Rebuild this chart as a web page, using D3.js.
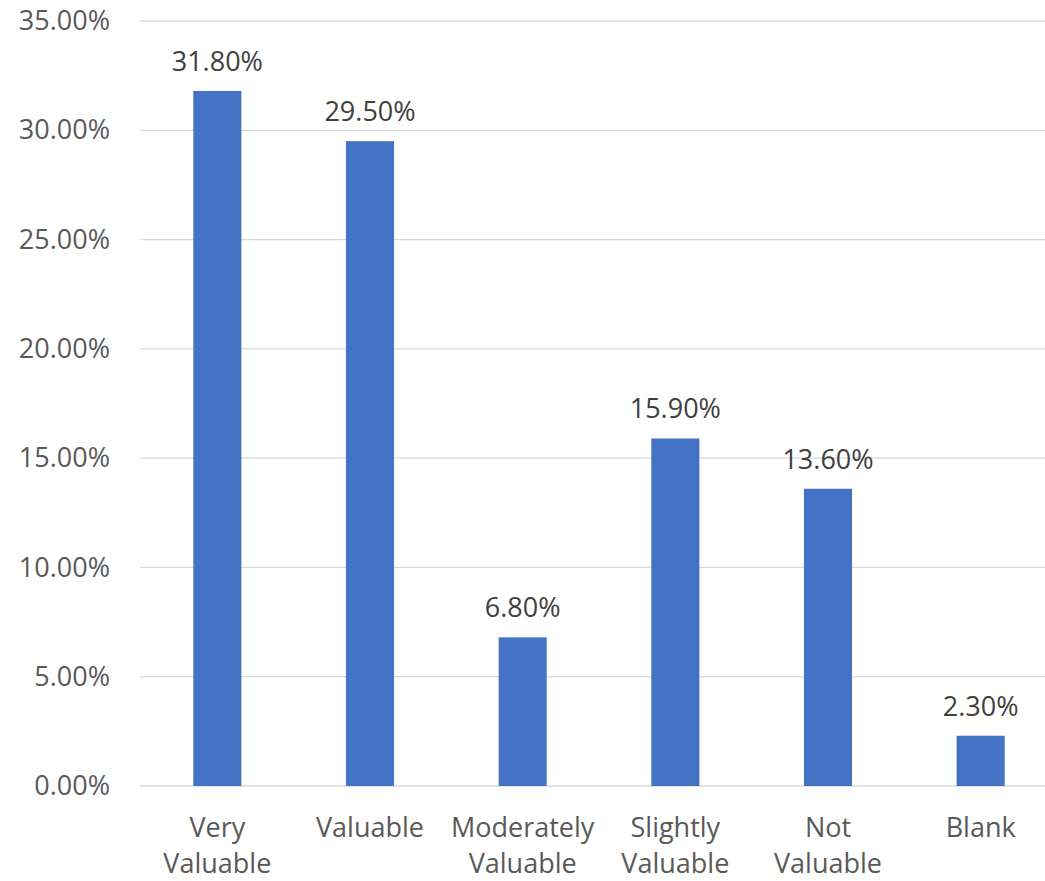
<!DOCTYPE html>
<html>
<head>
<meta charset="utf-8">
<script src="https://cdn.jsdelivr.net/npm/d3@7"></script>
<style>
  body { margin: 0; background: #fff; }
  text { font-family: "Open Sans", sans-serif; }
</style>
</head>
<body>
<svg id="chart"></svg>
<script>
const categories = [["Very", "Valuable"], ["Valuable"], ["Moderately", "Valuable"], ["Slightly", "Valuable"], ["Not", "Valuable"], ["Blank"]];
const values = [31.8, 29.5, 6.8, 15.9, 13.6, 2.3];
const yTicks = [0, 5, 10, 15, 20, 25, 30, 35];

const width = 1045, height = 881;
const fs = 27;
const svg = d3.select("#chart").attr("width", width).attr("height", height);

let keys = categories.map((c, i) => i);
let xScale = d3.scaleBand().domain(keys).range([141, 1057]).paddingInner(0.685).paddingOuter(0.3425);
let yScale = d3.scaleLinear().domain([0, 35]).range([786, 21]);

// gridlines
svg.append("g").selectAll("line").data(yTicks).enter().append("line")
  .attr("x1", 140).attr("x2", width)
  .attr("y1", d => yScale(d)).attr("y2", d => yScale(d))
  .attr("stroke", "#d9d9d9").attr("stroke-width", 1.3);

// y axis labels
let yAxis = d3.axisLeft(yScale).tickValues(yTicks).tickSize(0).tickPadding(0)
  .tickFormat(d => d.toFixed(2) + "%");
let gy = svg.append("g").attr("transform", "translate(110,0)").call(yAxis);
gy.select(".domain").remove();
gy.selectAll("text").attr("font-size", fs).attr("fill", "#595959")
  .attr("font-family", "Open Sans, sans-serif");

// bars
svg.append("g").selectAll("rect").data(values).enter().append("rect")
  .attr("x", (d, i) => xScale(i))
  .attr("y", d => yScale(d))
  .attr("width", xScale.bandwidth())
  .attr("height", d => yScale(0) - yScale(d))
  .attr("fill", "#4472c4");

// data labels
svg.append("g").selectAll("text").data(values).enter().append("text")
  .attr("x", (d, i) => xScale(i) + xScale.bandwidth() / 2)
  .attr("y", d => yScale(d) - 20)
  .attr("text-anchor", "middle")
  .attr("font-size", fs).attr("fill", "#404040")
  .text(d => d.toFixed(2) + "%");

// category labels
let cat = svg.append("g").selectAll("text").data(categories).enter().append("text")
  .attr("x", (d, i) => xScale(i) + xScale.bandwidth() / 2)
  .attr("y", 837)
  .attr("text-anchor", "middle")
  .attr("font-size", fs).attr("fill", "#595959");
cat.selectAll("tspan").data(d => d).enter().append("tspan")
  .attr("x", function () { return this.parentNode.getAttribute("x"); })
  .attr("dy", (d, i) => i === 0 ? 0 : 36)
  .text(d => d);
</script>
</body>
</html>
